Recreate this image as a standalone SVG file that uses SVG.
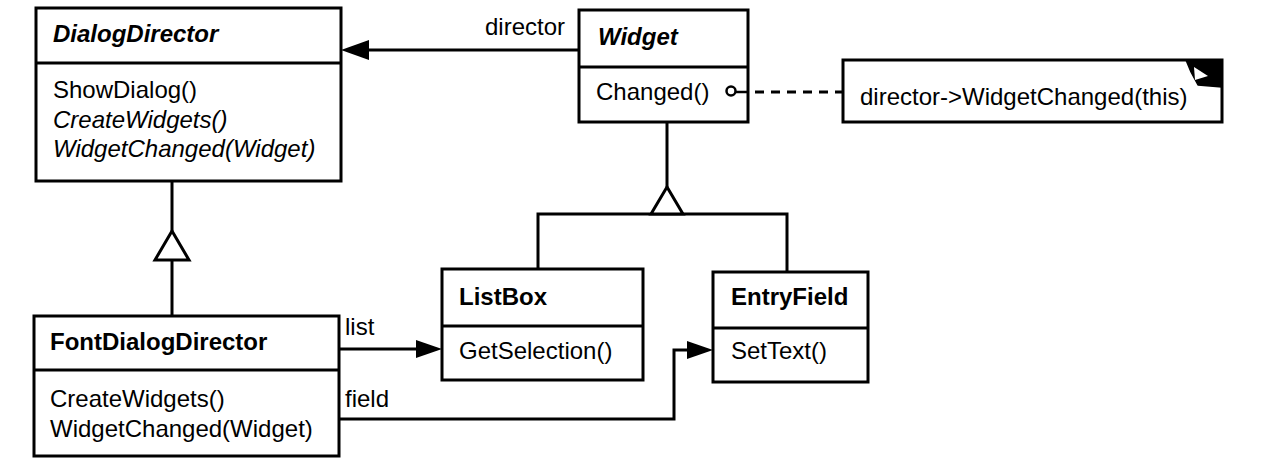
<svg xmlns="http://www.w3.org/2000/svg" width="1286" height="474" viewBox="0 0 1286 474">
<style>
.box{fill:#fff;stroke:#000;stroke-width:3}
.ln{fill:none;stroke:#000;stroke-width:3}
.t{font-family:"Liberation Sans",Arial,sans-serif;font-size:24px;fill:#000}
.b{font-weight:bold}
.i{font-style:italic}
.head{fill:#000;stroke:none}
.gen{fill:#fff;stroke:#000;stroke-width:3}
</style>
<rect width="1286" height="474" fill="#fff"/>
<g id="DialogDirector">
  <rect class="box" x="36" y="8" width="305" height="173"/>
  <line class="ln" x1="36" y1="63" x2="341" y2="63"/>
  <text class="t b i" x="53" y="42">DialogDirector</text>
  <text class="t" x="53" y="98">ShowDialog()</text>
  <text class="t i" x="53" y="128">CreateWidgets()</text>
  <text class="t i" x="53" y="157">WidgetChanged(Widget)</text>
</g>
<g id="Widget">
  <rect class="box" x="579" y="10" width="169" height="112"/>
  <line class="ln" x1="579" y1="67" x2="748" y2="67"/>
  <text class="t b i" x="598" y="45">Widget</text>
  <text class="t" x="596" y="100">Changed()</text>
</g>
<g id="Note">
  <path class="box" d="M843,60 H1222 V122 H843 Z"/>
  <polygon fill="#000" stroke="#000" stroke-width="1.5" stroke-linejoin="round" points="1186,60 1222,60 1222,87 1198,85 1191,72"/>
  <polygon fill="#fff" points="1194,67 1208,76 1195,80"/>
  <text class="t" x="860" y="105">director-&gt;WidgetChanged(this)</text>
</g>
<g id="ListBox">
  <rect class="box" x="442" y="269" width="201" height="111"/>
  <line class="ln" x1="442" y1="326" x2="643" y2="326"/>
  <text class="t b" x="459" y="305">ListBox</text>
  <text class="t" x="459" y="359">GetSelection()</text>
</g>
<g id="EntryField">
  <rect class="box" x="713" y="272" width="155" height="110"/>
  <line class="ln" x1="713" y1="328" x2="868" y2="328"/>
  <text class="t b" x="731" y="305">EntryField</text>
  <text class="t" x="731" y="359">SetText()</text>
</g>
<g id="FontDialogDirector">
  <rect class="box" x="34" y="316" width="305" height="140"/>
  <line class="ln" x1="34" y1="370" x2="339" y2="370"/>
  <text class="t b" x="50" y="350">FontDialogDirector</text>
  <text class="t" x="50" y="407">CreateWidgets()</text>
  <text class="t" x="50" y="437">WidgetChanged(Widget)</text>
</g>
<g id="connectors">
  <line class="ln" x1="579" y1="50" x2="366" y2="50"/>
  <polygon class="head" points="341,50 369,40 369,60"/>
  <line x1="736" y1="92" x2="749" y2="92" stroke="#000" stroke-width="2.5"/>
  <line class="ln" x1="755" y1="92" x2="843" y2="92" stroke-dasharray="9,7"/>
  <circle cx="731" cy="91" r="4.5" fill="#fff" stroke="#000" stroke-width="2.5"/>
  <line class="ln" x1="667" y1="122" x2="667" y2="187"/>
  <polyline class="ln" points="538,269 538,214 787,214 787,272"/>
  <polygon class="gen" points="667,187 651,214 683,214"/>
  <line class="ln" x1="172" y1="181" x2="172" y2="231"/>
  <line class="ln" x1="172" y1="260" x2="172" y2="316"/>
  <polygon class="gen" points="172,231 155,260 189,260"/>
  <line class="ln" x1="339" y1="349" x2="418" y2="349"/>
  <polygon class="head" points="442,349 416,340 416,358"/>
  <polyline class="ln" points="339,419 674,419 674,350 690,350"/>
  <polygon class="head" points="713,350 687,341 687,359"/>
  <text class="t" x="485" y="35">director</text>
  <text class="t" x="345" y="335">list</text>
  <text class="t" x="345" y="407">field</text>
</g>
</svg>
